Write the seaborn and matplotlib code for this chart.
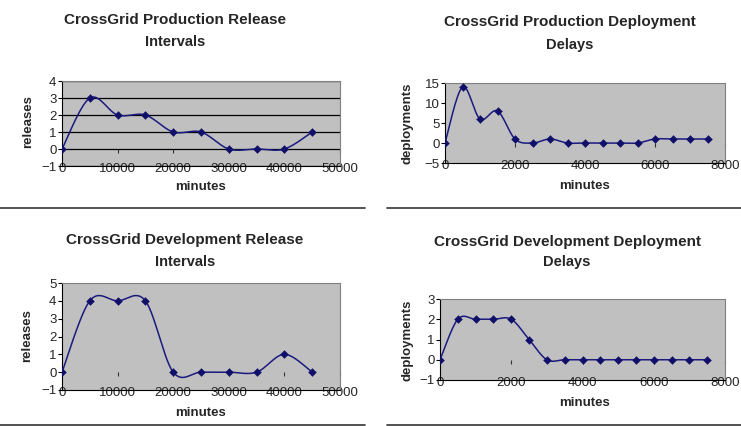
import numpy as np
import pandas as pd
import matplotlib
matplotlib.use("Agg")
import matplotlib.pyplot as plt
import seaborn as sns

sns.set_style("white")
plt.rcParams['font.family'] = ['Liberation Sans', 'DejaVu Sans']

# data
rel_minutes = [0, 5000, 10000, 15000, 20000, 25000, 30000, 35000, 40000, 45000]
prod_releases = [0, 3, 2, 2, 1, 1, 0, 0, 0, 1]
dev_releases = [0, 4, 4, 4, 0, 0, 0, 0, 1, 0]

dep_minutes = [0, 500, 1000, 1500, 2000, 2500, 3000, 3500, 4000, 4500,
               5000, 5500, 6000, 6500, 7000, 7500]
prod_deployments = [0, 14, 6, 8, 1, 0, 1, 0, 0, 0, 0, 0, 1, 1, 1, 1]
dev_deployments = [0, 2, 2, 2, 2, 1, 0, 0, 0, 0, 0, 0, 0, 0, 0, 0]

LINE = "#1a1a80"
FACE = "#c0c0c0"


def smooth(x, y, n=30):
    # excel style smoothed line (bezier through each point)
    x = np.asarray(x, float)
    y = np.asarray(y, float)
    px = np.concatenate([[x[0]], x, [x[-1]]])
    py = np.concatenate([[y[0]], y, [y[-1]]])
    t = np.linspace(0, 1, n)[:, None]
    xs, ys = [], []
    for i in range(1, len(px) - 2):
        p0 = np.array([px[i], py[i]])
        p3 = np.array([px[i + 1], py[i + 1]])
        p1 = p0 + (np.array([px[i + 1], py[i + 1]]) - np.array([px[i - 1], py[i - 1]])) / 6
        p2 = p3 - (np.array([px[i + 2], py[i + 2]]) - p0) / 6
        b = (1 - t) ** 3 * p0 + 3 * (1 - t) ** 2 * t * p1 + 3 * (1 - t) * t ** 2 * p2 + t ** 3 * p3
        xs.append(b[:, 0])
        ys.append(b[:, 1])
    return np.concatenate(xs), np.concatenate(ys)


def panel(rect, x, y, xmax, xstep, ylim, ystep, grid=False):
    ax = fig.add_axes(rect)
    ax.set_facecolor(FACE)
    sx, sy = smooth(x, y)
    ax.plot(sx, sy, color=LINE, lw=1.1, zorder=3)
    df = pd.DataFrame({"x": x, "y": y})
    sns.scatterplot(data=df, x="x", y="y", ax=ax, marker="D", s=16,
                    color="#10106a", edgecolor="#10106a", zorder=4)
    ax.set_xlim(0, xmax)
    ax.set_ylim(*ylim)
    ax.set_xticks(np.arange(0, xmax + 1, xstep))
    ax.set_yticks(np.arange(ylim[0], ylim[1] + 0.1, ystep))
    if grid:
        ax.yaxis.grid(True, color="black", lw=0.9)
        ax.set_axisbelow(True)
    for s in ["top", "right"]:
        ax.spines[s].set_color("#808080")
    for s in ["left", "bottom"]:
        ax.spines[s].set_color("black")
    ax.tick_params(axis="y", labelsize=9.5, length=3, color="black", pad=1,
                   direction="out", left=True)
    # excel puts the category labels right on the bottom edge
    ax.tick_params(axis="x", labelsize=9.5, length=0, pad=2, bottom=True)
    plt.setp(ax.get_xticklabels(), va="center")
    # category axis crosses at zero: small tick marks there
    sec = ax.secondary_xaxis(0, transform=ax.transData)
    sec.set_xticks(np.arange(0, xmax + 1, xstep))
    sec.tick_params(axis="x", length=3, color="#333333", direction="out", labelbottom=False)
    sec.spines["bottom"].set_visible(False)
    ax.set_xlabel("")
    ax.set_ylabel("")
    return ax


fig = plt.figure(figsize=(7.41, 4.26), dpi=100)
W, H = 741, 426


def rect(l, t, r, b):
    return [l / W, 1 - b / H, (r - l) / W, (b - t) / H]


panel(rect(62, 81, 340, 166), rel_minutes, prod_releases, 50000, 10000, (-1, 4), 1, grid=True)
panel(rect(445, 83, 725, 163), dep_minutes, prod_deployments, 8000, 2000, (-5, 15), 5)
panel(rect(62, 283, 340, 390), rel_minutes, dev_releases, 50000, 10000, (-1, 5), 1)
panel(rect(440, 299, 725, 380), dep_minutes, dev_deployments, 8000, 2000, (-1, 3), 1)

titles = [
    (175, 20, 42, "CrossGrid Production Release", "Intervals"),
    (570, 22, 45, "CrossGrid Production Deployment", "Delays"),
    (185, 240, 262, "CrossGrid Development Release", "Intervals"),
    (567, 242, 262, "CrossGrid Development Deployment", "Delays"),
]
for cx, y1, y2, t1, t2 in titles:
    fig.text(cx / W, 1 - y1 / H, t1, ha="center", va="center", fontsize=11, fontweight="bold")
    fig.text(cx / W, 1 - y2 / H, t2, ha="center", va="center", fontsize=10.5, fontweight="bold")

ylabels = [(28, 122, "releases"), (408, 123, "deployments"),
           (27, 336, "releases"), (407, 340, "deployments")]
for x, y, t in ylabels:
    fig.text(x / W, 1 - y / H, t, rotation=90, ha="center", va="center", fontsize=9.5, fontweight="bold")

xlabels = [(200, 187), (585, 186), (200, 413), (585, 403)]
for x, y in xlabels:
    fig.text(x / W, 1 - y / H, "minutes", ha="center", va="center", fontsize=9.5, fontweight="bold")

# separator lines between the panels
fig.add_artist(plt.Line2D([0, 365 / W], [1 - 208 / H] * 2, color="#333333", lw=1.2))
fig.add_artist(plt.Line2D([387 / W, 1], [1 - 208 / H] * 2, color="#333333", lw=1.2))
fig.add_artist(plt.Line2D([0, 365 / W], [1 - 425 / H] * 2, color="#333333", lw=1.2))
fig.add_artist(plt.Line2D([387 / W, 1], [1 - 425 / H] * 2, color="#333333", lw=1.2))

fig.savefig("out.png", dpi=100)
